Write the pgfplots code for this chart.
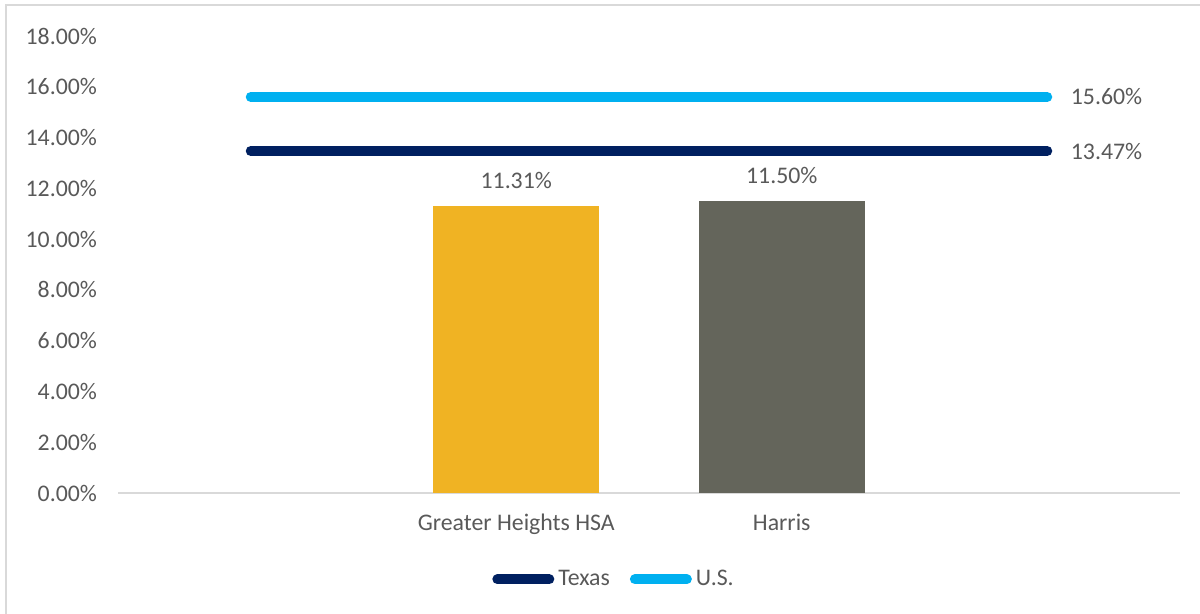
\documentclass[border=0pt]{standalone}
\usepackage{pgfplots}
\pgfplotsset{compat=1.18}
\usepackage{fontspec}
\setmainfont{Carlito}
\definecolor{txt}{HTML}{595959}
\definecolor{gold}{HTML}{F0B323}
\definecolor{stone}{HTML}{64655B}
\definecolor{navy}{HTML}{002060}
\definecolor{sky}{HTML}{00B0F0}
\definecolor{frame}{HTML}{D9D9D9}
\begin{document}
\begin{tikzpicture}
\useasboundingbox (0,0) rectangle (600pt,307pt);
\draw[frame, line width=1pt] (2.8pt,0) -- (2.8pt,304.5pt) -- (600pt,304.5pt);
\begin{axis}[
  at={(59pt,60.5pt)}, anchor=south west,
  scale only axis, width=531pt, height=228.5pt,
  xmin=-0.5, xmax=3.5, ymin=0, ymax=18,
  axis lines=left, axis line style={-},
  x axis line style={draw=frame, line width=0.8pt},
  y axis line style={draw=none},
  xtick={1,2}, xticklabels={Greater Heights HSA, Harris},
  ytick={0,2,...,18},
  major tick length=0pt,
  font=\fontsize{11.9pt}{14pt}\selectfont,
  tick label style={text=txt, font=\fontsize{11.9pt}{14pt}\selectfont},
  /pgf/number format/assume math mode=true,
  yticklabel={\pgfmathprintnumber[fixed, fixed zerofill, precision=2]{\tick}\%},
  yticklabel style={xshift=-7pt},
  xticklabel style={yshift=-7pt},
  legend style={at={(0.468,-0.189)}, anchor=center, draw=none, fill=none,
    legend columns=-1, font=\fontsize{11.9pt}{14pt}\selectfont, text=txt,
    /tikz/every even column/.append style={column sep=8pt}},
  legend cell align=left,
  clip=false,
]
\addplot[ybar, bar width=83pt, bar shift=0pt, fill=gold, draw=none, forget plot,
  nodes near coords={11.31\%}, every node near coord/.append style={text=txt, yshift=5pt}]
  coordinates {(1,11.31)};
\addplot[ybar, bar width=83pt, bar shift=0pt, fill=stone, draw=none, forget plot,
  nodes near coords={11.50\%}, every node near coord/.append style={text=txt, yshift=5pt}]
  coordinates {(2,11.50)};
\addplot[navy, line width=5pt, line cap=round,
  legend image code/.code={\draw[line width=5pt, line cap=round] (0pt,0pt) -- (26pt,0pt);}]
  coordinates {(0,13.47) (3,13.47)} node[pos=1, right, xshift=6pt, text=txt]{13.47\%};
\addlegendentry{Texas}
\addplot[sky, line width=5pt, line cap=round,
  legend image code/.code={\draw[line width=5pt, line cap=round] (0pt,0pt) -- (26pt,0pt);}]
  coordinates {(0,15.60) (3,15.60)} node[pos=1, right, xshift=6pt, text=txt]{15.60\%};
\addlegendentry{U.S.}
\end{axis}
\end{tikzpicture}
\end{document}
